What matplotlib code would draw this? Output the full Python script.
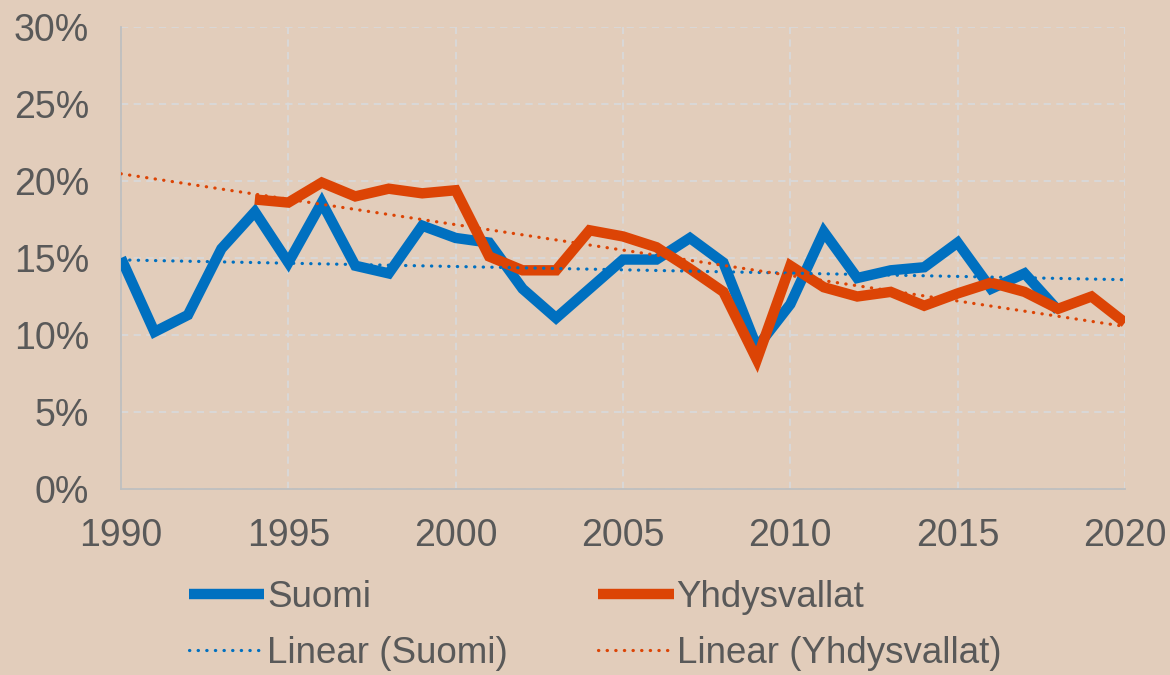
import numpy as np
import matplotlib
matplotlib.use("Agg")
import matplotlib.pyplot as plt
from matplotlib.ticker import FuncFormatter

years_fi = list(range(1990, 2019))
suomi = [15.0, 10.2, 11.3, 15.6, 18.0, 14.7, 18.6, 14.5, 14.0, 17.1,
         16.3, 16.0, 13.0, 11.1, 13.0, 14.9, 14.9, 16.3, 14.7, 9.2,
         12.0, 16.7, 13.7, 14.2, 14.4, 16.0, 13.0, 14.0, 11.6]
years_us = list(range(1994, 2021))
yhdysvallat = [18.8, 18.6, 19.9, 19.0, 19.5, 19.2, 19.4, 15.1, 14.2, 14.2,
               16.8, 16.4, 15.7, 14.3, 12.8, 8.4, 14.5, 13.1, 12.5, 12.8,
               11.9, 12.7, 13.4, 12.8, 11.7, 12.5, 10.8]
x_ticks = [1990, 1995, 2000, 2005, 2010, 2015, 2020]
y_ticks = [0, 5, 10, 15, 20, 25, 30]

BG = "#E2CDBB"
BLUE = "#0070C0"
ORANGE = "#DC4405"
TXT = "#595959"

plt.rcParams['font.family'] = ['Liberation Sans', 'DejaVu Sans']

fig = plt.figure(figsize=(11.7, 6.75), dpi=100, facecolor=BG)
ax = fig.add_axes([121/1170, 1-489/675, (1125-121)/1170, (489-27)/675])
ax.set_facecolor(BG)

l1, = ax.plot(years_fi, suomi, color=BLUE, lw=7.5, solid_joinstyle='miter',
              solid_capstyle='butt', label='Suomi', zorder=3)
l2, = ax.plot(years_us, yhdysvallat, color=ORANGE, lw=7.5, solid_joinstyle='miter',
              solid_capstyle='butt', label='Yhdysvallat', zorder=4)

xs = np.array([1990, 2020])
p_fi = np.polyfit(years_fi, suomi, 1)
p_us = np.polyfit(years_us, yhdysvallat, 1)
t1, = ax.plot(xs, np.polyval(p_fi, xs), color=BLUE, lw=2.3,
              linestyle=(0, (0.1, 2.6)), dash_capstyle='round',
              label='Linear (Suomi)', zorder=5)
t2, = ax.plot(xs, np.polyval(p_us, xs), color=ORANGE, lw=2.3,
              linestyle=(0, (0.1, 2.6)), dash_capstyle='round',
              label='Linear (Yhdysvallat)', zorder=5)

ax.set_xlim(1990, 2020)
ax.set_ylim(0, 30)
ax.set_xticks(x_ticks)
ax.set_yticks(y_ticks)
ax.yaxis.set_major_formatter(FuncFormatter(lambda v, p: f"{int(v)}%"))
ax.tick_params(length=0, labelsize=27, colors=TXT)
ax.tick_params(axis='y', pad=23)
ax.tick_params(axis='x', pad=21)
ax.grid(True, color="#D9D9D9", linestyle=(0, (4, 3)), lw=1.3, zorder=0)
for s in ['top', 'right']:
    ax.spines[s].set_visible(False)
for s in ['left', 'bottom']:
    ax.spines[s].set_color("#BFBFBF")
    ax.spines[s].set_linewidth(1.3)

leg = fig.legend(handles=[l1, t1, l2, t2], loc='upper left',
                 bbox_to_anchor=(189/1170, 1-580/675), ncol=2, frameon=False,
                 fontsize=26.5, handlelength=2.05, handletextpad=0.08,
                 columnspacing=2.45, labelspacing=0.58, borderpad=0,
                 borderaxespad=0)
for t in leg.get_texts():
    t.set_color(TXT)

fig.savefig("out.png", dpi=100, facecolor=BG)
